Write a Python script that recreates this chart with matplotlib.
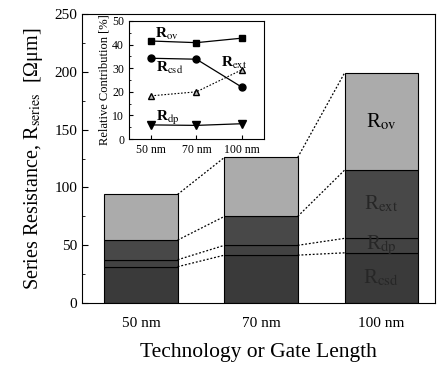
import numpy as np
import matplotlib
matplotlib.use('Agg')
import matplotlib.pyplot as plt

plt.rcParams['font.family'] = ['Liberation Serif', 'DejaVu Serif']
plt.rcParams['mathtext.fontset'] = 'stix'

# data
nodes = ['50 nm', '70 nm', '100 nm']
# stacked bottom -> top: R_csd, R_dp, R_ext, R_ov  [Ohm um]
r_csd = [31.5, 41.5, 43.5]
r_dp = [6.0, 8.5, 12.5]
r_ext = [17.0, 25.0, 59.0]
r_ov = [39.5, 51.0, 84.0]

# inset: relative contribution [%]
pct_ov = [41.5, 40.8, 42.7]
pct_csd = [34.2, 33.8, 22.0]
pct_ext = [18.3, 20.0, 29.3]
pct_dp = [6.0, 5.8, 6.5]

fig = plt.figure(figsize=(4.37, 3.67), dpi=100)
ax = fig.add_axes([0.188, 0.174, 0.808, 0.788])

x = np.arange(len(nodes))
w = 0.61
layers = [r_csd, r_dp, r_ext, r_ov]
colors = ['#3a3a3a', '#424242', '#484848', '#ababab']
bottom = np.zeros(len(nodes))
bounds = []
for vals, c in zip(layers, colors):
    ax.bar(x, vals, w, bottom=bottom, color=c, edgecolor='black', linewidth=0.8)
    bottom = bottom + np.array(vals)
    bounds.append(bottom.copy())

# dotted connectors between neighbouring bars
for b in bounds:
    for i in range(len(nodes) - 1):
        ax.plot([x[i] + w / 2, x[i + 1] - w / 2], [b[i], b[i + 1]],
                ls=(0, (1.5, 1.5)), color='black', lw=0.9)

# labels inside the 100 nm bar
ax.text(x[2], bounds[2][2] + r_ov[2] / 2, r'R$_{\rm ov}$', ha='center', va='center',
        fontsize=15, color='black')
ax.text(x[2], bounds[1][2] + r_ext[2] / 2, r'R$_{\rm ext}$', ha='center', va='center',
        fontsize=15, color='#262626')
ax.text(x[2], bounds[0][2] + r_dp[2] / 2, r'R$_{\rm dp}$', ha='center', va='center',
        fontsize=15, color='#262626')
ax.text(x[2], r_csd[2] / 2, r'R$_{\rm csd}$', ha='center', va='center',
        fontsize=15, color='#262626')

ax.set_xlim(-0.49, 2.45)
ax.set_ylim(0, 250)
ax.set_yticks(np.arange(0, 251, 50))
ax.set_yticks(np.arange(0, 251, 25), minor=True)
ax.set_xticks(x)
ax.set_xticklabels(nodes)
ax.tick_params(direction='in', labelsize=11, length=4)
ax.tick_params(axis='x', length=0, pad=10)
ax.tick_params(which='minor', direction='in', length=2.5)
ax.set_xlabel('Technology or Gate Length', fontsize=15.5, labelpad=9)
ax.set_ylabel(r'Series Resistance, R$_{\rm series}$  [Ωμm]', fontsize=14.5, labelpad=7)

# inset
ins = fig.add_axes([0.295, 0.621, 0.309, 0.322])
ins.plot(x, pct_ov, '-s', color='black', ms=5, lw=0.9)
ins.plot(x, pct_csd, '-o', color='black', ms=5, lw=0.9)
ins.plot(x, pct_ext, '^', ls=(0, (1.5, 1.5)), color='black', mfc='#bbbbbb', ms=5, lw=0.8)
ins.plot(x, pct_dp, '-v', color='black', ms=6, lw=0.9)
ins.text(0.08, 43, r'R$_{\rm ov}$', fontsize=11, fontweight='bold')
ins.text(0.1, 28.5, r'R$_{\rm csd}$', fontsize=11, fontweight='bold')
ins.text(1.55, 30.5, r'R$_{\rm ext}$', fontsize=11, fontweight='bold')
ins.text(0.1, 7.5, r'R$_{\rm dp}$', fontsize=11, fontweight='bold')
ins.set_xlim(-0.49, 2.49)
ins.set_ylim(0, 50)
ins.set_xticks(x)
ins.set_xticklabels(nodes)
ins.set_yticks(np.arange(0, 51, 10))
ins.set_yticks(np.arange(0, 51, 5), minor=True)
ins.tick_params(direction='in', labelsize=8.5, length=3)
ins.tick_params(which='minor', direction='in', length=1.5)
ins.set_ylabel('Relative Contribution [%]', fontsize=9, labelpad=1)

fig.savefig('out.png', dpi=100)
